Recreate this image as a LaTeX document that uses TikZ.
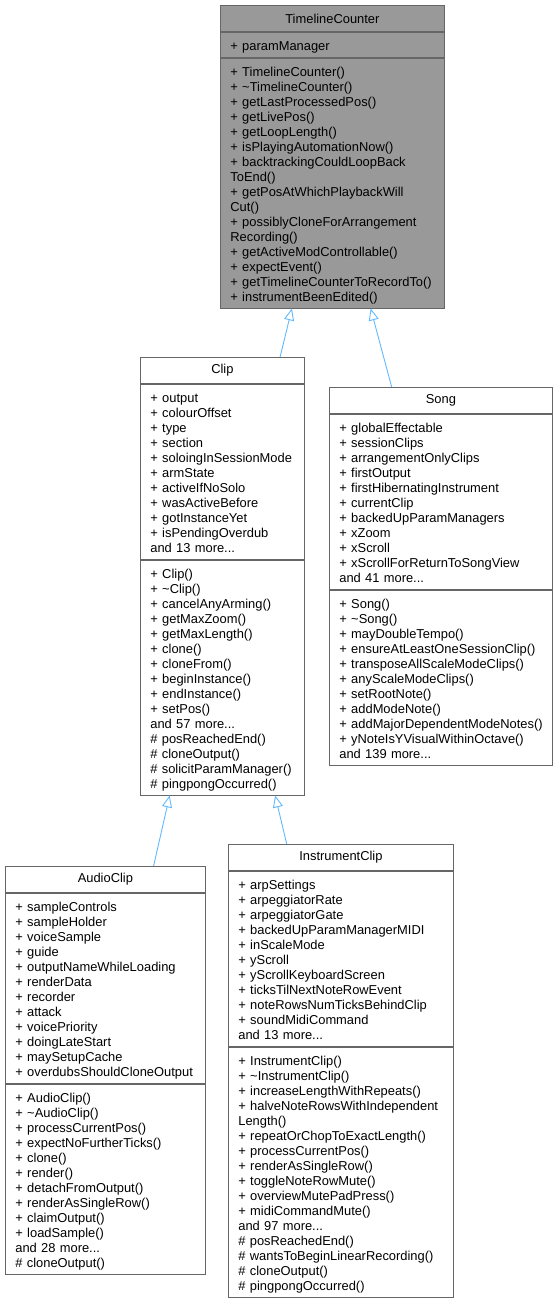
\documentclass[tikz,border=0pt]{standalone}
\usepackage{fontspec}
\setmainfont{Liberation Sans}
\usepackage{xcolor}
\usetikzlibrary{positioning,calc,arrows.meta}
\definecolor{boxline}{HTML}{666666}
\definecolor{basefill}{HTML}{999999}
\definecolor{inheritline}{HTML}{63B8FF}

\begin{document}
\begin{tikzpicture}[x=1pt,y=1pt,
		font=\fontsize{12.9}{15}\selectfont,
		classname/.style={draw=boxline,line width=0.8pt,minimum width=#1,minimum height=26pt,inner sep=0pt,anchor=north west},
		members/.style={draw=boxline,line width=0.8pt,text width=#1,inner xsep=0pt,inner ysep=3.75pt,align=left,
			execute at begin node={\leftskip=10pt\relax\rule{0pt}{14.5pt}},execute at end node={\rule[-3pt]{0pt}{3pt}}},
		inherit/.style={draw=inheritline,line width=0.9pt,-{Triangle[open,length=12pt,width=10pt]}}]
			\useasboundingbox (0,0) rectangle (559,-1302);

			% base class
			\node[classname=224pt,fill=basefill] (tc) at (220,-5) {TimelineCounter};
			\node[members=224pt,fill=basefill,below=0pt of tc] (tc-attrs) {+ paramManager};
			\node[members=224pt,fill=basefill,below=0pt of tc-attrs] (tc-ops)
			{
				+ TimelineCounter()\\
				+ \textasciitilde TimelineCounter()\\
				+ getLastProcessedPos()\\
				+ getLivePos()\\
				+ getLoopLength()\\
				+ isPlayingAutomationNow()\\
				+ backtrackingCouldLoopBack\\
				ToEnd()\\
				+ getPosAtWhichPlaybackWill\\
				Cut()\\
				+ possiblyCloneForArrangement\\
				Recording()\\
				+ getActiveModControllable()\\
				+ expectEvent()\\
				+ getTimelineCounterToRecordTo()\\
				+ instrumentBeenEdited()
			};

			\node[classname=164pt] (clip) at (140,-357) {Clip};
			\node[members=164pt,below=0pt of clip] (clip-attrs)
			{
				+ output\\
				+ colourOffset\\
				+ type\\
				+ section\\
				+ soloingInSessionMode\\
				+ armState\\
				+ activeIfNoSolo\\
				+ wasActiveBefore\\
				+ gotInstanceYet\\
				+ isPendingOverdub\\
				and 13 more...
			};
			\node[members=164pt,below=0pt of clip-attrs] (clip-ops)
			{
				+ Clip()\\
				+ \textasciitilde Clip()\\
				+ cancelAnyArming()\\
				+ getMaxZoom()\\
				+ getMaxLength()\\
				+ clone()\\
				+ cloneFrom()\\
				+ beginInstance()\\
				+ endInstance()\\
				+ setPos()\\
				and 57 more...\\
				\# posReachedEnd()\\
				\# cloneOutput()\\
				\# solicitParamManager()\\
				\# pingpongOccurred()
			};

			\node[classname=223pt] (song) at (329,-387) {Song};
			\node[members=223pt,below=0pt of song] (song-attrs)
			{
				+ globalEffectable\\
				+ sessionClips\\
				+ arrangementOnlyClips\\
				+ firstOutput\\
				+ firstHibernatingInstrument\\
				+ currentClip\\
				+ backedUpParamManagers\\
				+ xZoom\\
				+ xScroll\\
				+ xScrollForReturnToSongView\\
				and 41 more...
			};
			\node[members=223pt,below=0pt of song-attrs] (song-ops)
			{
				+ Song()\\
				+ \textasciitilde Song()\\
				+ mayDoubleTempo()\\
				+ ensureAtLeastOneSessionClip()\\
				+ transposeAllScaleModeClips()\\
				+ anyScaleModeClips()\\
				+ setRootNote()\\
				+ addModeNote()\\
				+ addMajorDependentModeNotes()\\
				+ yNoteIsYVisualWithinOctave()\\
				and 139 more...
			};

			\node[classname=200pt] (audioclip) at (5,-866) {AudioClip};
			\node[members=200pt,below=0pt of audioclip] (audioclip-attrs)
			{
				+ sampleControls\\
				+ sampleHolder\\
				+ voiceSample\\
				+ guide\\
				+ outputNameWhileLoading\\
				+ renderData\\
				+ recorder\\
				+ attack\\
				+ voicePriority\\
				+ doingLateStart\\
				+ maySetupCache\\
				+ overdubsShouldCloneOutput
			};
			\node[members=200pt,below=0pt of audioclip-attrs] (audioclip-ops)
			{
				+ AudioClip()\\
				+ \textasciitilde AudioClip()\\
				+ processCurrentPos()\\
				+ expectNoFurtherTicks()\\
				+ clone()\\
				+ render()\\
				+ detachFromOutput()\\
				+ renderAsSingleRow()\\
				+ claimOutput()\\
				+ loadSample()\\
				and 28 more...\\
				\# cloneOutput()
			};

			\node[classname=225pt] (instrumentclip) at (228,-844) {InstrumentClip};
			\node[members=225pt,below=0pt of instrumentclip] (instrumentclip-attrs)
			{
				+ arpSettings\\
				+ arpeggiatorRate\\
				+ arpeggiatorGate\\
				+ backedUpParamManagerMIDI\\
				+ inScaleMode\\
				+ yScroll\\
				+ yScrollKeyboardScreen\\
				+ ticksTilNextNoteRowEvent\\
				+ noteRowsNumTicksBehindClip\\
				+ soundMidiCommand\\
				and 13 more...
			};
			\node[members=225pt,below=0pt of instrumentclip-attrs] (instrumentclip-ops)
			{
				+ InstrumentClip()\\
				+ \textasciitilde InstrumentClip()\\
				+ increaseLengthWithRepeats()\\
				+ halveNoteRowsWithIndependent\\
				Length()\\
				+ repeatOrChopToExactLength()\\
				+ processCurrentPos()\\
				+ renderAsSingleRow()\\
				+ toggleNoteRowMute()\\
				+ overviewMutePadPress()\\
				+ midiCommandMute()\\
				and 97 more...\\
				\# posReachedEnd()\\
				\# wantsToBeginLinearRecording()\\
				\# cloneOutput()\\
				\# pingpongOccurred()
			};

			% inheritance
			\draw[inherit] ($(clip.north west)!0.85!(clip.north east)$) -- ($(tc-ops.south west)!0.32!(tc-ops.south east)$);
			\draw[inherit] ($(song.north west)!0.28!(song.north east)$) -- ($(tc-ops.south west)!0.67!(tc-ops.south east)$);
			\draw[inherit] ($(audioclip.north west)!0.74!(audioclip.north east)$) -- ($(clip-ops.south west)!0.18!(clip-ops.south east)$);
			\draw[inherit] ($(instrumentclip.north west)!0.26!(instrumentclip.north east)$) -- ($(clip-ops.south west)!0.82!(clip-ops.south east)$);
		\end{tikzpicture}
\end{document}
